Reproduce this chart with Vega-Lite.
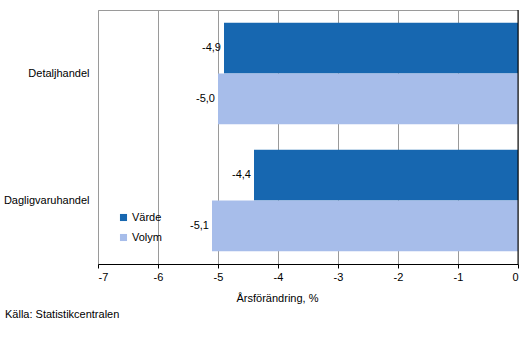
{
  "$schema": "https://vega.github.io/schema/vega-lite/v6.json",
  "width": 420,
  "height": 254,
  "autosize": {"type": "none"},
  "padding": {"left": 98, "top": 10, "right": 12, "bottom": 93},
  "background": "white",
  "data": {
    "values": [
      {"kategori": "Detaljhandel", "serie": "Värde", "varde": -4.9},
      {"kategori": "Detaljhandel", "serie": "Volym", "varde": -5.0},
      {"kategori": "Dagligvaruhandel", "serie": "Värde", "varde": -4.4},
      {"kategori": "Dagligvaruhandel", "serie": "Volym", "varde": -5.1}
    ]
  },
  "title": {
    "text": "Källa: Statistikcentralen",
    "orient": "bottom",
    "anchor": "start",
    "frame": "group",
    "dx": -93,
    "offset": 6,
    "font": "Liberation Sans",
    "fontSize": 11,
    "fontWeight": "normal",
    "color": "#000000"
  },
  "layer": [
    {
      "mark": {"type": "bar", "cornerRadius": 0},
      "encoding": {
        "y": {
          "field": "kategori",
          "type": "nominal",
          "sort": ["Detaljhandel", "Dagligvaruhandel"],
          "scale": {"paddingInner": 0.2, "paddingOuter": 0.1},
          "axis": {"title": null, "ticks": false, "domain": false, "labelPadding": 9, "labelFontSize": 11, "labelFont": "Liberation Sans", "labelColor": "#000000"}
        },
        "yOffset": {
          "field": "serie",
          "type": "nominal",
          "sort": ["Värde", "Volym"],
          "scale": {"paddingInner": 0, "paddingOuter": 0}
        },
        "x": {
          "field": "varde",
          "type": "quantitative",
          "scale": {"domain": [-7, 0], "nice": false, "zero": false},
          "axis": {
            "title": "Årsförändring, %",
            "titleFont": "Liberation Sans",
            "titleFontSize": 11,
            "titleFontWeight": "normal",
            "titleColor": "#000000",
            "titleX": 179,
            "titlePadding": 10,
            "values": [-7, -6, -5, -4, -3, -2, -1, 0],
            "format": "d",
            "labelFont": "Liberation Sans",
            "labelFontSize": 11,
            "labelColor": "#000000",
            "labelPadding": 3,
            "tickColor": "#000000",
            "tickSize": 4,
            "domainColor": "#000000",
            "grid": true,
            "gridColor": "#9a9a9a",
            "gridWidth": 1
          }
        },
        "color": {
          "field": "serie",
          "type": "nominal",
          "scale": {"domain": ["Värde", "Volym"], "range": ["#1767b0", "#a7bdea"]},
          "legend": {
            "title": null,
            "orient": "none",
            "legendX": 20,
            "legendY": 202,
            "symbolType": "square",
            "symbolSize": 50,
            "symbolStrokeWidth": 0,
            "labelFont": "Liberation Sans",
            "labelFontSize": 11,
            "labelColor": "#000000",
            "labelOffset": 3,
            "rowPadding": 8
          }
        }
      }
    },
    {
      "mark": {"type": "text", "align": "right", "baseline": "middle", "dx": -3, "font": "Liberation Sans", "fontSize": 11, "color": "#000000"},
      "encoding": {
        "y": {"field": "kategori", "type": "nominal", "sort": ["Detaljhandel", "Dagligvaruhandel"]},
        "yOffset": {"field": "serie", "type": "nominal", "sort": ["Värde", "Volym"]},
        "x": {"field": "varde", "type": "quantitative"},
        "text": {"field": "varde", "type": "quantitative", "format": ".1f"}
      }
    },
    {
      "data": {"values": [{"x": 0}]},
      "mark": {"type": "rule", "color": "#000000", "strokeWidth": 1},
      "encoding": {"x": {"field": "x", "type": "quantitative"}, "y": {"value": 0}, "y2": {"value": 254}}
    }
  ],
  "config": {
    "view": {"stroke": "#9a9a9a"},
    "locale": {
      "number": {"decimal": ",", "thousands": "\u00a0", "grouping": [3], "currency": ["", "\u00a0€"], "minus": "-"}
    }
  }
}
